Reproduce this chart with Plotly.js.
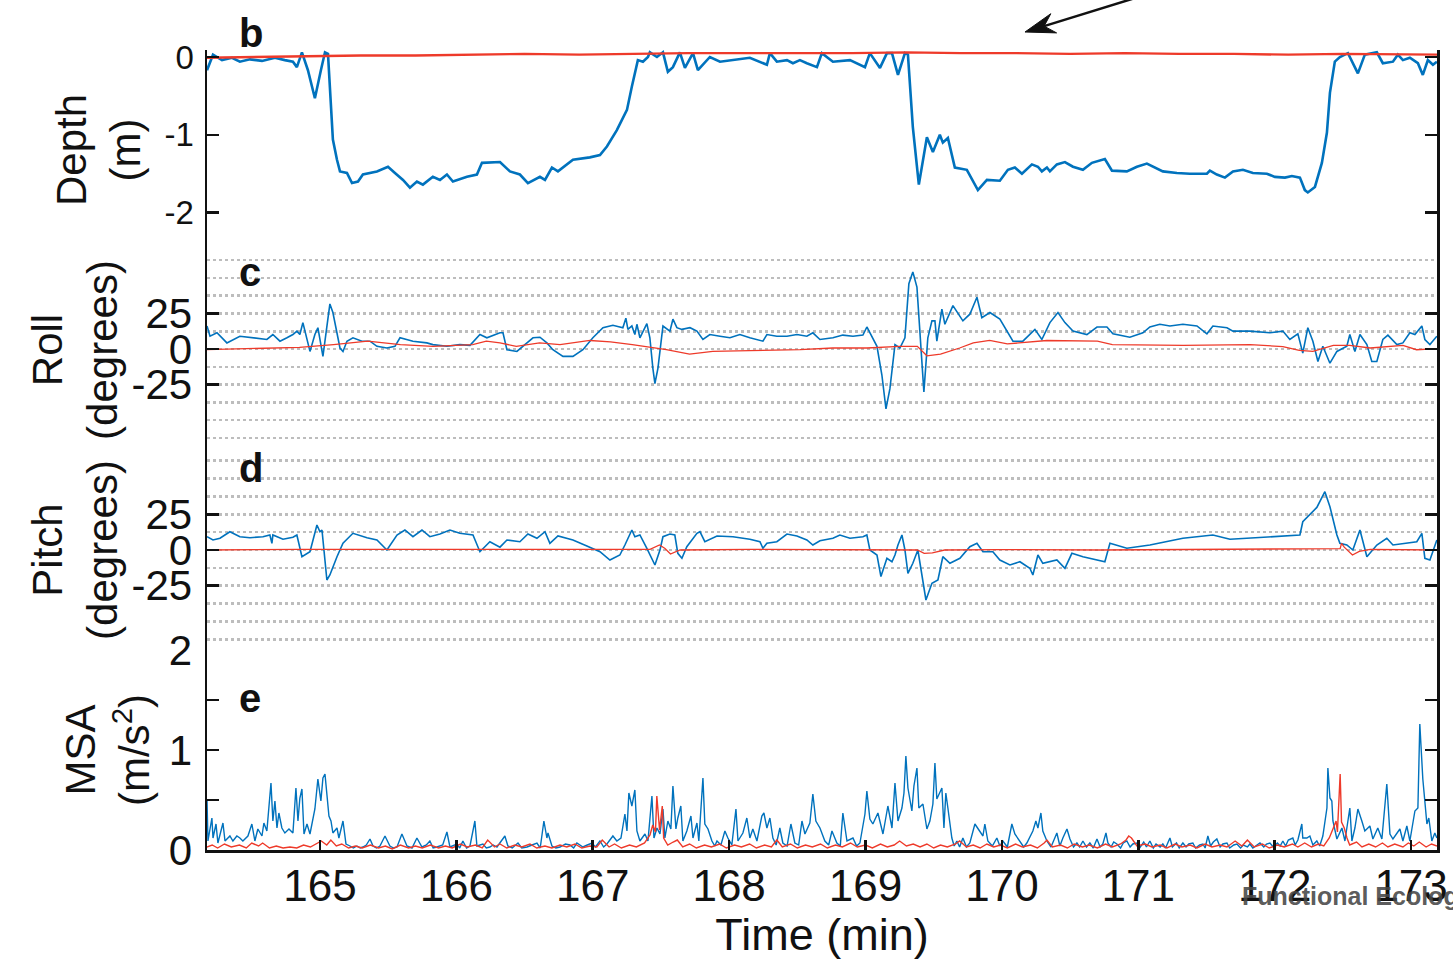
<!DOCTYPE html>
<html><head><meta charset="utf-8">
<script src="https://cdn.plot.ly/plotly-3.0.1.min.js"></script>
<style>html,body{margin:0;padding:0;background:#fff;} #chart{width:1453px;height:960px;}</style>
</head><body><div id="chart"></div>
<script>
// ---------- DATA (time in minutes) ----------
const xTickVals = [165,166,167,168,169,170,171,172,173];
const xTickText = ['165','166','167','168','169','170','171','172','173'];
const depthTickVals = [0,-1,-2];
const depthTickText = ['0','-1','-2'];
const angleTickVals = [-25,0,25];
const angleTickText = ['-25','0','25'];
const msaTickVals = [0,1,2];
const msaTickText = ['0','1','2'];

// Depth (m): [time, depth]
const depthBlue = [[164.172,-0.17],[164.216,0.03],[164.282,-0.04],[164.355,-0.01],[164.413,-0.06],[164.487,-0.03],[164.575,-0.05],[164.670,-0.01],[164.743,-0.04],[164.802,-0.06],
[164.831,-0.13],[164.868,0.06],[164.912,-0.17],[164.963,-0.53],[165.007,-0.17],[165.037,0.06],[165.059,0.04],[165.095,-1.06],[165.125,-1.32],[165.147,-1.47],
[165.198,-1.49],[165.235,-1.62],[165.279,-1.60],[165.315,-1.51],[165.418,-1.47],[165.499,-1.41],[165.550,-1.49],[165.609,-1.58],[165.660,-1.68],[165.711,-1.60],
[165.755,-1.64],[165.828,-1.54],[165.880,-1.58],[165.931,-1.51],[165.975,-1.60],[166.078,-1.54],[166.151,-1.51],[166.188,-1.36],[166.320,-1.35],[166.393,-1.47],
[166.466,-1.51],[166.525,-1.62],[166.613,-1.54],[166.650,-1.58],[166.701,-1.42],[166.745,-1.47],[166.855,-1.32],[166.979,-1.29],[167.053,-1.26],[167.104,-1.15],
[167.177,-0.94],[167.251,-0.68],[167.287,-0.38],[167.331,-0.04],[167.368,-0.06],[167.405,0.00],[167.419,0.06],[167.471,0.00],[167.515,0.06],[167.551,-0.19],
[167.588,-0.13],[167.639,0.06],[167.676,-0.14],[167.735,0.05],[167.771,-0.17],[167.859,0.00],[167.933,-0.06],[168.028,-0.04],[168.152,-0.01],[168.277,-0.10],
[168.299,0.05],[168.350,-0.06],[168.424,-0.04],[168.468,-0.08],[168.519,-0.04],[168.570,-0.08],[168.644,-0.13],[168.680,0.05],[168.761,-0.06],[168.886,-0.04],
[168.996,-0.13],[169.032,0.05],[169.106,-0.14],[169.157,0.05],[169.194,0.05],[169.238,-0.23],[169.289,0.05],[169.311,0.03],[169.347,-0.90],[169.391,-1.64],
[169.450,-1.03],[169.494,-1.22],[169.545,-1.00],[169.567,-1.10],[169.604,-1.04],[169.655,-1.42],[169.743,-1.45],[169.824,-1.71],[169.890,-1.58],[169.985,-1.59],
[170.044,-1.45],[170.095,-1.42],[170.147,-1.50],[170.220,-1.38],[170.264,-1.41],[170.293,-1.47],[170.330,-1.42],[170.352,-1.47],[170.403,-1.38],[170.462,-1.35],
[170.521,-1.41],[170.594,-1.45],[170.660,-1.36],[170.755,-1.31],[170.807,-1.46],[170.916,-1.47],[170.990,-1.41],[171.063,-1.37],[171.122,-1.42],[171.180,-1.47],
[171.283,-1.49],[171.378,-1.50],[171.503,-1.50],[171.525,-1.46],[171.576,-1.51],[171.635,-1.55],[171.694,-1.47],[171.767,-1.45],[171.840,-1.49],[171.943,-1.50],
[172.001,-1.54],[172.075,-1.55],[172.126,-1.53],[172.185,-1.55],[172.221,-1.71],[172.243,-1.74],[172.295,-1.67],[172.346,-1.36],[172.383,-0.97],[172.405,-0.46],
[172.441,-0.06],[172.478,0.00],[172.537,0.05],[172.610,-0.21],[172.661,0.03],[172.749,0.06],[172.793,-0.08],[172.867,-0.06],[172.903,0.03],[172.940,-0.04],
[172.991,-0.01],[173.050,-0.08],[173.086,-0.23],[173.123,-0.04],[173.160,-0.10],[173.189,-0.06]];
const depthRed = [[164.17,-0.01],[164.5,0.00],[164.9,0.01],[165.3,0.02],[165.7,0.02],[166.1,0.03],[166.5,0.04],[166.9,0.03],[167.3,0.04],[167.7,0.05],[168.1,0.05],[168.5,0.05],
[168.9,0.05],[169.3,0.06],[169.7,0.05],[170.1,0.05],[170.5,0.04],[170.9,0.05],[171.3,0.04],[171.7,0.04],[172.1,0.03],[172.5,0.04],[172.9,0.03],[173.19,0.03]];

// Roll (degrees): [time, roll]
const rollBlue = [[164.172,16.2],[164.194,9.0],[164.245,11.4],[164.318,4.3],[164.413,9.0],[164.509,7.9],[164.611,6.7],[164.655,10.2],[164.707,5.5],[164.758,7.9],
[164.802,10.2],[164.831,12.6],[164.853,10.2],[164.875,18.6],[164.905,7.9],[164.927,-1.7],[164.963,10.2],[164.985,15.0],[165.022,-5.2],[165.051,17.4],
[165.073,31.7],[165.095,25.7],[165.125,10.2],[165.147,0.7],[165.169,-1.7],[165.198,5.5],[165.242,7.9],[165.308,5.5],[165.367,5.5],[165.418,1.9],
[165.491,0.7],[165.550,1.9],[165.587,7.9],[165.682,5.5],[165.784,4.3],[165.828,3.1],[165.931,1.9],[166.026,3.1],[166.100,2.6],[166.173,10.2],
[166.224,7.9],[166.320,11.4],[166.342,11.4],[166.371,-0.5],[166.444,-1.7],[166.488,1.9],[166.562,7.9],[166.613,8.3],[166.664,4.3],[166.708,-0.5],
[166.782,-5.2],[166.855,-5.2],[166.928,-0.5],[167.001,7.9],[167.075,15.0],[167.148,16.7],[167.221,15.0],[167.243,21.7],[167.258,13.8],[167.287,16.2],
[167.309,10.2],[167.324,17.4],[167.346,7.9],[167.397,17.9],[167.419,7.9],[167.441,-13.6],[167.456,-24.3],[167.478,-13.6],[167.515,16.2],[167.566,12.6],
[167.588,21.0],[167.617,15.0],[167.654,13.8],[167.713,15.0],[167.764,12.6],[167.808,6.7],[167.859,10.2],[167.933,9.0],[168.006,7.9],[168.079,10.2],
[168.152,7.9],[168.248,5.5],[168.277,10.2],[168.350,9.0],[168.424,9.0],[168.497,10.2],[168.570,9.0],[168.614,11.4],[168.666,6.7],[168.761,7.9],
[168.834,9.8],[168.908,9.0],[168.981,9.8],[169.010,15.5],[169.032,11.4],[169.084,1.9],[169.120,-18.3],[169.150,-42.1],[169.179,-27.9],[169.216,3.1],
[169.252,0.7],[169.289,7.9],[169.318,46.0],[169.347,54.3],[169.377,43.6],[169.399,10.2],[169.428,-30.2],[169.457,7.9],[169.487,19.8],[169.509,19.8],
[169.523,5.5],[169.560,28.1],[169.582,17.4],[169.641,30.5],[169.714,19.8],[169.765,24.5],[169.817,36.4],[169.853,22.1],[169.912,25.7],[169.985,21.0],
[170.081,5.5],[170.154,5.5],[170.242,13.8],[170.293,6.7],[170.352,18.6],[170.411,25.7],[170.462,18.6],[170.521,12.6],[170.623,10.2],[170.697,15.5],
[170.770,15.5],[170.814,10.7],[170.938,8.3],[171.034,11.4],[171.085,15.5],[171.158,17.4],[171.232,16.2],[171.327,17.4],[171.430,16.2],[171.503,10.7],
[171.547,16.2],[171.650,15.0],[171.694,12.6],[171.818,12.6],[171.965,11.4],[172.060,12.6],[172.111,6.7],[172.170,10.7],[172.206,-2.9],[172.243,15.0],
[172.280,5.5],[172.317,-8.8],[172.353,1.9],[172.405,-10.0],[172.456,-1.7],[172.529,1.9],[172.551,10.2],[172.588,-1.7],[172.625,10.2],[172.676,3.1],
[172.712,-8.8],[172.749,-8.8],[172.793,6.7],[172.830,9.8],[172.896,3.1],[172.940,4.3],[172.991,11.4],[173.028,10.2],[173.079,16.2],[173.101,6.7],
[173.138,3.1],[173.189,9.0]];
const rollRed = [[164.17,-0.5],[164.49,0.2],[164.85,1.2],[165.10,3.1],[165.35,5.5],[165.59,3.1],[165.83,1.9],[166.12,3.1],[166.22,5.5],[166.32,4.3],[166.44,1.9],
[166.61,4.3],[166.76,3.1],[166.98,6.0],[167.13,5.0],[167.29,3.1],[167.42,1.2],[167.54,-0.5],[167.71,-3.6],[167.88,-1.7],[168.15,-1.2],[168.52,-0.5],[168.76,0.7],
[169.01,0.7],[169.25,1.9],[169.38,1.9],[169.45,-4.8],[169.55,-3.6],[169.69,0.7],[169.79,4.3],[169.91,6.0],[170.04,3.6],[170.33,6.0],[170.70,5.5],[170.81,3.1],
[171.33,2.6],[171.82,3.1],[172.06,1.7],[172.18,-1.0],[172.28,-1.7],[172.43,2.6],[172.55,2.6],[172.70,0.7],[172.94,2.6],[173.04,-0.5],[173.19,0.2]];

// Pitch (degrees): [time, pitch]
const pitchBlue = [[164.172,9.3],[164.216,7.0],[164.267,8.2],[164.340,12.8],[164.413,9.3],[164.487,8.6],[164.582,9.3],[164.633,10.5],[164.648,4.7],[164.655,10.5],
[164.729,7.5],[164.802,8.9],[164.831,10.5],[164.868,-4.7],[164.927,-1.2],[164.978,17.5],[165.000,12.8],[165.015,14.0],[165.051,-21.0],[165.073,-17.5],
[165.125,-4.7],[165.169,4.7],[165.242,11.7],[165.345,8.6],[165.418,7.0],[165.491,0.0],[165.565,10.5],[165.623,14.0],[165.682,9.3],[165.748,14.0],
[165.806,9.3],[165.880,11.2],[165.953,14.0],[166.026,11.7],[166.122,10.5],[166.173,-1.2],[166.246,5.8],[166.320,2.0],[166.371,7.0],[166.466,5.8],
[166.525,11.2],[166.591,8.2],[166.650,12.8],[166.686,4.7],[166.745,9.8],[166.855,7.0],[166.957,2.8],[167.053,-1.2],[167.126,-7.0],[167.199,-3.5],
[167.236,3.5],[167.258,8.2],[167.287,14.0],[167.309,9.3],[167.346,10.5],[167.397,1.2],[167.434,-5.8],[167.456,-10.5],[167.493,0.0],[167.515,9.3],
[167.566,11.2],[167.602,10.5],[167.624,-2.3],[167.654,-5.8],[167.690,2.3],[167.764,11.7],[167.786,12.8],[167.822,5.8],[167.911,9.8],[168.028,9.3],
[168.152,7.5],[168.226,5.8],[168.248,1.2],[168.277,4.7],[168.350,5.8],[168.424,11.2],[168.497,9.8],[168.570,7.0],[168.614,3.5],[168.666,6.5],
[168.761,8.2],[168.812,10.5],[168.886,8.2],[168.981,9.3],[169.010,10.5],[169.032,0.0],[169.084,-3.5],[169.113,-18.6],[169.157,-5.8],[169.194,-8.2],
[169.216,-3.5],[169.238,3.5],[169.267,10.5],[169.289,0.0],[169.311,-16.3],[169.347,-9.3],[169.384,0.0],[169.413,-18.6],[169.443,-35.0],[169.487,-23.3],
[169.531,-21.0],[169.567,-4.7],[169.619,-9.3],[169.692,-5.8],[169.765,2.3],[169.817,4.7],[169.861,-1.2],[169.934,-1.2],[169.985,-7.0],[170.059,-10.5],
[170.132,-8.2],[170.205,-12.8],[170.227,-17.5],[170.264,-3.5],[170.300,-9.3],[170.403,-7.0],[170.462,-12.8],[170.513,-2.3],[170.594,-4.7],[170.755,-8.2],
[170.792,4.7],[170.916,1.2],[171.085,3.5],[171.327,8.2],[171.547,10.5],[171.672,7.5],[171.943,8.9],[172.185,10.5],[172.206,19.8],[172.309,29.8],
[172.368,40.8],[172.405,30.3],[172.456,10.5],[172.478,4.7],[172.529,3.5],[172.573,0.0],[172.625,14.0],[172.676,-4.7],[172.749,3.5],[172.822,8.2],
[172.867,3.5],[172.969,4.7],[173.042,5.8],[173.079,11.7],[173.101,-5.8],[173.138,-7.0],[173.189,7.0]];
const pitchRed = [[164.17,0.0],[164.85,0.5],[165.59,0.5],[166.32,0.5],[167.05,0.0],[167.42,0.5],[167.49,3.5],[167.53,1.0],[167.57,-2.8],[167.64,0.0],[168.15,0.5],
[168.89,0.5],[169.38,0.0],[169.43,-2.3],[169.49,-2.0],[169.58,0.0],[169.99,0.3],[170.72,0.0],[171.45,0.5],[172.19,0.5],[172.48,1.0],[172.49,4.7],[172.51,2.0],
[172.57,-3.5],[172.62,-1.0],[172.70,0.5],[173.19,0.0]];

// MSA (m/s^2): [time, msa]
const msaBlue = [[164.172,0.51],[164.179,0.09],[164.208,0.32],[164.216,0.12],[164.238,0.26],[164.252,0.07],[164.289,0.27],[164.304,0.09],[164.340,0.14],[164.362,0.09],
[164.391,0.14],[164.413,0.12],[164.435,0.09],[164.472,0.14],[164.501,0.26],[164.523,0.09],[164.545,0.21],[164.575,0.14],[164.589,0.27],[164.611,0.19],
[164.641,0.67],[164.655,0.29],[164.670,0.49],[164.685,0.22],[164.699,0.37],[164.721,0.22],[164.743,0.17],[164.773,0.21],[164.802,0.17],[164.824,0.62],
[164.839,0.29],[164.853,0.52],[164.868,0.61],[164.883,0.16],[164.905,0.26],[164.927,0.16],[164.963,0.41],[164.985,0.71],[165.007,0.49],[165.022,0.72],
[165.037,0.76],[165.051,0.52],[165.066,0.34],[165.081,0.29],[165.095,0.17],[165.125,0.22],[165.139,0.12],[165.169,0.29],[165.191,0.06],[165.220,0.04],
[165.245,0.02],[165.271,0.04],[165.295,0.02],[165.315,0.03],[165.340,0.05],[165.367,0.11],[165.389,0.04],[165.415,0.02],[165.440,0.04],[165.477,0.14],
[165.513,0.04],[165.540,0.02],[165.565,0.03],[165.601,0.16],[165.638,0.04],[165.675,0.02],[165.711,0.12],[165.748,0.03],[165.780,0.05],[165.806,0.09],
[165.830,0.02],[165.858,0.03],[165.900,0.05],[165.931,0.18],[165.953,0.03],[166.004,0.06],[166.025,0.02],[166.048,0.09],[166.075,0.02],[166.100,0.04],
[166.136,0.29],[166.151,0.04],[166.195,0.06],[166.220,0.02],[166.246,0.03],[166.270,0.05],[166.298,0.03],[166.356,0.14],[166.378,0.04],[166.410,0.02],
[166.452,0.07],[166.480,0.02],[166.518,0.03],[166.555,0.05],[166.591,0.07],[166.615,0.02],[166.642,0.29],[166.664,0.12],[166.672,0.17],[166.701,0.04],
[166.730,0.02],[166.760,0.03],[166.800,0.06],[166.833,0.05],[166.860,0.02],[166.884,0.07],[166.928,0.03],[166.960,0.05],[166.994,0.07],[167.020,0.03],
[167.053,0.09],[167.080,0.03],[167.104,0.06],[167.148,0.14],[167.177,0.09],[167.207,0.12],[167.236,0.36],[167.251,0.19],[167.265,0.57],[167.287,0.44],
[167.309,0.60],[167.324,0.19],[167.346,0.09],[167.383,0.16],[167.405,0.09],[167.434,0.54],[167.449,0.12],[167.471,0.22],[167.493,0.16],[167.515,0.41],
[167.529,0.12],[167.551,0.29],[167.573,0.21],[167.588,0.64],[167.610,0.21],[167.624,0.32],[167.646,0.44],[167.661,0.09],[167.690,0.19],[167.720,0.34],
[167.735,0.12],[167.764,0.27],[167.778,0.09],[167.808,0.72],[167.822,0.26],[167.845,0.21],[167.874,0.09],[167.895,0.04],[167.911,0.09],[167.940,0.05],
[167.969,0.19],[167.991,0.12],[168.020,0.05],[168.050,0.41],[168.065,0.09],[168.101,0.17],[168.130,0.32],[168.152,0.12],[168.174,0.21],[168.204,0.09],
[168.240,0.34],[168.255,0.37],[168.277,0.22],[168.299,0.32],[168.321,0.12],[168.345,0.05],[168.372,0.22],[168.394,0.07],[168.425,0.04],[168.453,0.26],
[168.482,0.07],[168.510,0.05],[168.534,0.29],[168.556,0.16],[168.592,0.27],[168.614,0.56],[168.636,0.29],[168.666,0.22],[168.702,0.09],[168.730,0.05],
[168.754,0.19],[168.790,0.07],[168.815,0.04],[168.834,0.37],[168.864,0.09],[168.908,0.12],[168.935,0.04],[168.959,0.07],[168.996,0.36],[169.010,0.59],
[169.032,0.31],[169.054,0.26],[169.091,0.37],[169.128,0.16],[169.164,0.44],[169.194,0.22],[169.216,0.67],[169.238,0.29],[169.267,0.42],[169.282,0.57],
[169.296,0.94],[169.311,0.62],[169.340,0.39],[169.355,0.64],[169.377,0.82],[169.391,0.42],[169.421,0.46],[169.450,0.21],[169.472,0.29],[169.494,0.46],
[169.509,0.87],[169.523,0.51],[169.560,0.62],[169.575,0.22],[169.589,0.57],[169.604,0.42],[169.633,0.12],[169.650,0.04],[169.670,0.09],[169.690,0.03],
[169.714,0.12],[169.740,0.03],[169.765,0.07],[169.802,0.26],[169.839,0.19],[169.861,0.14],[169.875,0.26],[169.897,0.09],[169.930,0.04],[169.963,0.12],
[169.985,0.04],[170.007,0.09],[170.040,0.03],[170.073,0.26],[170.095,0.16],[170.132,0.09],[170.160,0.03],[170.183,0.07],[170.227,0.19],[170.249,0.29],
[170.264,0.22],[170.286,0.37],[170.300,0.19],[170.330,0.09],[170.360,0.03],[170.403,0.17],[170.425,0.04],[170.447,0.12],[170.477,0.21],[170.499,0.11],
[170.525,0.03],[170.550,0.07],[170.570,0.03],[170.594,0.09],[170.620,0.03],[170.645,0.07],[170.670,0.02],[170.697,0.11],[170.720,0.03],[170.740,0.06],
[170.763,0.17],[170.777,0.07],[170.800,0.03],[170.820,0.08],[170.843,0.06],[170.870,0.02],[170.890,0.07],[170.916,0.09],[170.940,0.03],[170.960,0.06],
[170.990,0.07],[171.010,0.02],[171.040,0.08],[171.060,0.03],[171.085,0.09],[171.110,0.02],[171.130,0.06],[171.160,0.03],[171.180,0.06],[171.200,0.02],
[171.232,0.12],[171.250,0.03],[171.280,0.07],[171.300,0.02],[171.327,0.07],[171.350,0.03],[171.370,0.06],[171.400,0.07],[171.420,0.02],[171.450,0.05],
[171.474,0.06],[171.490,0.02],[171.510,0.14],[171.530,0.04],[171.550,0.08],[171.576,0.11],[171.600,0.03],[171.620,0.06],[171.650,0.07],[171.670,0.02],
[171.700,0.05],[171.723,0.06],[171.750,0.02],[171.770,0.05],[171.800,0.03],[171.818,0.06],[171.840,0.02],[171.870,0.05],[171.892,0.07],[171.920,0.03],
[171.940,0.06],[171.965,0.07],[171.990,0.03],[172.020,0.07],[172.040,0.04],[172.060,0.09],[172.080,0.04],[172.100,0.10],[172.133,0.12],[172.150,0.05],
[172.170,0.10],[172.199,0.26],[172.206,0.12],[172.236,0.12],[172.258,0.14],[172.280,0.05],[172.309,0.09],[172.330,0.04],[172.353,0.14],[172.383,0.42],
[172.390,0.82],[172.405,0.52],[172.419,0.49],[172.427,0.29],[172.456,0.11],[172.493,0.22],[172.515,0.09],[172.551,0.42],[172.566,0.09],[172.588,0.22],
[172.610,0.41],[172.639,0.29],[172.661,0.19],[172.698,0.24],[172.720,0.11],[172.756,0.22],[172.786,0.11],[172.822,0.66],[172.845,0.16],[172.867,0.11],
[172.918,0.21],[172.940,0.09],[172.969,0.24],[172.991,0.09],[173.028,0.39],[173.050,0.42],[173.064,1.26],[173.086,0.71],[173.116,0.26],[173.130,0.32],
[173.152,0.09],[173.174,0.17],[173.189,0.12]];
const msaRed = [[164.17,0.03],[164.21,0.05],[164.25,0.02],[164.30,0.06],[164.35,0.03],[164.41,0.05],[164.46,0.02],[164.50,0.07],[164.55,0.04],[164.58,0.07],
[164.63,0.02],[164.68,0.04],[164.73,0.02],[164.78,0.03],[164.83,0.02],[164.88,0.05],[164.93,0.03],[164.97,0.06],[165.01,0.09],[165.05,0.05],
[165.08,0.10],[165.12,0.04],[165.16,0.06],[165.21,0.02],[165.26,0.04],[165.31,0.02],[165.37,0.05],[165.43,0.02],[165.48,0.04],[165.53,0.01],
[165.59,0.05],[165.65,0.02],[165.70,0.04],[165.75,0.02],[165.81,0.05],[165.87,0.02],[165.92,0.04],[165.97,0.02],[166.03,0.06],[166.08,0.03],
[166.14,0.05],[166.19,0.02],[166.23,0.10],[166.28,0.03],[166.32,0.06],[166.37,0.02],[166.43,0.05],[166.48,0.03],[166.54,0.06],[166.59,0.02],
[166.65,0.04],[166.70,0.02],[166.76,0.05],[166.81,0.03],[166.87,0.06],[166.92,0.02],[166.98,0.04],[167.03,0.03],[167.07,0.10],[167.12,0.03],
[167.16,0.06],[167.21,0.02],[167.27,0.05],[167.32,0.03],[167.38,0.07],[167.42,0.15],[167.44,0.25],[167.46,0.18],[167.47,0.54],[167.49,0.20],
[167.51,0.44],[167.52,0.12],[167.55,0.05],[167.59,0.08],[167.62,0.10],[167.66,0.03],[167.71,0.06],[167.76,0.02],[167.82,0.05],[167.87,0.03],
[167.93,0.06],[167.98,0.02],[168.04,0.05],[168.09,0.03],[168.15,0.06],[168.20,0.02],[168.26,0.05],[168.31,0.03],[168.35,0.10],[168.39,0.03],
[168.45,0.06],[168.50,0.02],[168.56,0.05],[168.61,0.03],[168.67,0.06],[168.72,0.02],[168.78,0.05],[168.83,0.03],[168.89,0.07],[168.94,0.03],
[169.00,0.05],[169.05,0.02],[169.11,0.06],[169.16,0.03],[169.21,0.05],[169.25,0.09],[169.30,0.04],[169.35,0.06],[169.40,0.03],[169.45,0.06],
[169.50,0.02],[169.55,0.05],[169.60,0.03],[169.66,0.06],[169.69,0.09],[169.74,0.03],[169.79,0.05],[169.84,0.02],[169.89,0.06],[169.94,0.03],
[169.99,0.05],[170.04,0.02],[170.10,0.06],[170.15,0.03],[170.21,0.05],[170.26,0.02],[170.31,0.07],[170.33,0.10],[170.37,0.03],[170.43,0.05],
[170.48,0.02],[170.53,0.06],[170.59,0.03],[170.64,0.05],[170.70,0.02],[170.76,0.06],[170.81,0.03],[170.87,0.06],[170.91,0.10],[170.93,0.14],
[170.95,0.12],[170.99,0.04],[171.05,0.06],[171.10,0.03],[171.16,0.05],[171.21,0.02],[171.27,0.06],[171.32,0.03],[171.38,0.05],[171.43,0.02],
[171.49,0.06],[171.54,0.03],[171.60,0.05],[171.65,0.03],[171.71,0.09],[171.76,0.04],[171.80,0.10],[171.85,0.03],[171.91,0.06],[171.96,0.02],
[172.02,0.05],[172.07,0.03],[172.13,0.06],[172.17,0.03],[172.22,0.07],[172.27,0.03],[172.32,0.06],[172.36,0.04],[172.40,0.12],[172.43,0.22],
[172.45,0.29],[172.46,0.18],[172.48,0.76],[172.49,0.28],[172.51,0.22],[172.53,0.12],[172.55,0.05],[172.60,0.08],[172.64,0.03],[172.69,0.06],
[172.74,0.03],[172.79,0.07],[172.83,0.03],[172.88,0.06],[172.94,0.03],[172.98,0.07],[173.02,0.04],[173.06,0.08],[173.11,0.03],[173.15,0.06],[173.19,0.04]];

// ---------- STYLE ----------
const FONT = 'Liberation Sans, Arial, Helvetica, sans-serif';
const INK = '#111111';
const BLUE = '#0072BD';
const RED = '#EE3A2A';
const GRID = '#bdbdbd';

function trace(pairs, yaxis, color, width) {
  return {type:'scatter', mode:'lines', x:pairs.map(p=>p[0]), y:pairs.map(p=>p[1]),
    xaxis:'x', yaxis:yaxis, line:{color:color, width:width}, hoverinfo:'skip', showlegend:false};
}

const data = [
  trace(depthBlue,'y',BLUE,2.6), trace(depthRed,'y',RED,2.4),
  trace(rollBlue,'y2',BLUE,1.6), trace(rollRed,'y2',RED,1.3),
  trace(pitchBlue,'y3',BLUE,1.6), trace(pitchRed,'y3',RED,1.3),
  trace(msaBlue,'y4',BLUE,1.4), trace(msaRed,'y4',RED,1.4)
];

function yAxis(domain, range, vals, text, tfs, title, standoff, extra) {
  const a = {
    domain:domain, range:range, anchor:'x', tickmode:'array', tickvals:vals, ticktext:text,
    ticks:'inside', ticklen:12, tickwidth:2.5, tickcolor:INK,
    showline:true, linecolor:INK, linewidth:2.5, mirror:'ticks',
    zeroline:false, showgrid:false, automargin:false, ticklabelstandoff:4,
    tickfont:{family:FONT, size:tfs, color:INK},
    title:{text:title, font:{family:FONT, size:42, color:INK}, standoff:standoff}
  };
  if (extra === 'grid') {
    a.showgrid = true; a.gridcolor = GRID; a.gridwidth = 2.5; a.griddash = 'dot';
    a.minor = {tickmode:'linear', tick0:0, dtick:12.5, showgrid:true, gridcolor:GRID, gridwidth:2.5, griddash:'dot', ticks:''};
  } else if (extra === 'half') {
    a.minor = {tickmode:'linear', tick0:0, dtick:0.5, ticks:'inside', ticklen:12, tickwidth:2.5, tickcolor:INK, showgrid:false};
  }
  return a;
}

// arrow (paper coordinates) drawn as shapes
const arrowShaft = {type:'line', xref:'paper', yref:'paper', x0:0.6806, y0:1.0298, x1:0.7626, y1:1.0688, line:{color:INK, width:2.5}};
const arrowHead = {type:'path', xref:'paper', yref:'paper',
  path:'M0.66504,1.0225 L0.69073,1.02138 L0.68057,1.02975 L0.68602,1.04538 Z',
  fillcolor:INK, line:{color:INK, width:1}};

const layout = {
  width:1453, height:960,
  margin:{l:207, r:16, t:50, b:110, pad:0},
  paper_bgcolor:'#ffffff', plot_bgcolor:'#ffffff',
  showlegend:false, hovermode:false,
  font:{family:FONT, color:INK},
  xaxis:{
    domain:[0,1], range:[164.172,173.19], anchor:'y4',
    tickmode:'array', tickvals:xTickVals, ticktext:xTickText,
    ticks:'inside', ticklen:10, tickwidth:2.5, tickcolor:INK,
    showline:true, linecolor:INK, linewidth:2.5, mirror:false,
    zeroline:false, showgrid:false, automargin:false, ticklabelstandoff:-4,
    tickfont:{family:FONT, size:44, color:INK},
    title:{text:'Time (min)', font:{family:FONT, size:45, color:INK}, standoff:12}
  },
  yaxis: yAxis([0.75,1], [-2.48,0.09], depthTickVals, depthTickText, 33, 'Depth<br>(m)', 11, null),
  yaxis2: yAxis([0.5,0.75], [-71.1,69.7], angleTickVals, angleTickText, 42, 'Roll<br>(degrees)', 1, 'grid'),
  yaxis3: yAxis([0.25,0.5], [-70,70], angleTickVals, angleTickText, 42, 'Pitch<br>(degrees)', 1, 'grid'),
  yaxis4: yAxis([0,0.25], [0,2], msaTickVals, msaTickText, 42, 'MSA<br>(m/s<sup>2</sup>)', 6, 'half'),
  shapes:[arrowShaft, arrowHead],
  annotations:[
    {text:'<b>b</b>', xref:'paper', yref:'paper', x:0.0358, y:1.021, xanchor:'center', yanchor:'middle', showarrow:false, font:{family:FONT, size:40, color:INK}},
    {text:'<b>c</b>', xref:'paper', yref:'paper', x:0.0350, y:0.7225, xanchor:'center', yanchor:'middle', showarrow:false, font:{family:FONT, size:40, color:INK}},
    {text:'<b>d</b>', xref:'paper', yref:'paper', x:0.0358, y:0.4775, xanchor:'center', yanchor:'middle', showarrow:false, font:{family:FONT, size:40, color:INK}},
    {text:'<b>e</b>', xref:'paper', yref:'paper', x:0.0350, y:0.19, xanchor:'center', yanchor:'middle', showarrow:false, font:{family:FONT, size:40, color:INK}},
    {text:'<b>Functional Ecology</b>', xref:'paper', yref:'paper', x:0.8400, y:-0.0575, xanchor:'left', yanchor:'middle', showarrow:false, font:{family:FONT, size:25, color:'rgba(70,70,70,0.9)'}}
  ]
};

Plotly.newPlot('chart', data, layout, {displayModeBar:false, staticPlot:true});
</script></body></html>
